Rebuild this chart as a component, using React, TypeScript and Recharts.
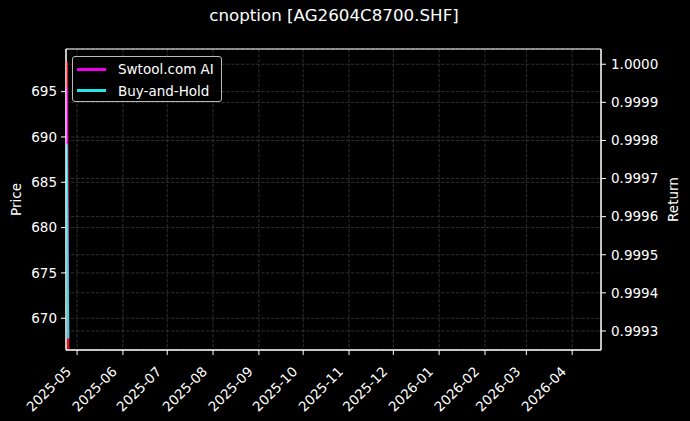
import React from 'react';
import {
  ComposedChart, Line, XAxis, YAxis, CartesianGrid, ReferenceArea,
} from 'recharts';

// trading days actually present in the backtest
const dates = ['2025-04-24', '2025-04-25'];
const price = [698.3, 666.6];
const aiReturn = [0.99994, 0.99928];
const holdReturn = [0.99979, 0.99928];

const monthTicks = [
  '2025-05', '2025-06', '2025-07', '2025-08', '2025-09', '2025-10',
  '2025-11', '2025-12', '2026-01', '2026-02', '2026-03', '2026-04',
];
const priceTicks = [670, 675, 680, 685, 690, 695];
const returnTicks = [0.9993, 0.9994, 0.9995, 0.9996, 0.9997, 0.9998, 0.9999, 1.0];

const xRange = ['2025-04-23T12:00:00Z', '2026-04-20T12:00:00Z'];
const priceRange = [666.5, 699.7];
const returnRange = [0.99925, 1.00004];

const FONT = '"DejaVu Sans", sans-serif';
const MAGENTA = '#ee00ee';
const CYAN = '#22e6e6';
const RED = '#dd1122';
const GRID = '#3a3a3a';

const toTime = (s: string) => Date.parse(s.length === 7 ? `${s}-01T00:00:00Z` : s.length === 10 ? `${s}T00:00:00Z` : s);

const data = dates.map((d, i) => ({
  t: toTime(d),
  price: price[i],
  ai: aiReturn[i],
  hold: holdReturn[i],
}));

const xDomain = xRange.map(toTime);
const xTicks = monthTicks.map(toTime);

const fmtMonth = (t: number) => {
  const d = new Date(t);
  return `${d.getUTCFullYear()}-${String(d.getUTCMonth() + 1).padStart(2, '0')}`;
};

const DateTick = ({ x, y, payload }: any) => (
  <g transform={`translate(${x - 5},${y + 15.5})`}>
    <text textAnchor="end" transform="rotate(-45)" fill="#fff" fontSize={13.5} fontFamily={FONT}>
      {fmtMonth(payload.value)}
    </text>
  </g>
);

const AxisTitle = ({ cx, cy, text }: any) => (
  <text
    x={cx}
    y={cy}
    transform={`rotate(-90 ${cx} ${cy})`}
    textAnchor="middle"
    dominantBaseline="central"
    fill="#fff"
    fontSize={13.5}
    fontFamily={FONT}
  >
    {text}
  </text>
);

const legendItems = [
  { name: 'Swtool.com AI', color: MAGENTA },
  { name: 'Buy-and-Hold', color: CYAN },
];

export default function App() {
  const tickStyle = { fill: '#fff', fontSize: 13.5, fontFamily: FONT };
  return (
    <div style={{ position: 'absolute', left: 0, top: 0, width: 690, height: 421, background: '#000', fontFamily: FONT }}>
      <div
        style={{
          position: 'absolute', left: 0, width: 668, top: 5, textAlign: 'center',
          color: '#fff', fontSize: 16.7, lineHeight: '20px',
        }}
      >
        cnoption [AG2604C8700.SHF]
      </div>

      <ComposedChart width={690} height={421} data={data} margin={{ top: 49, right: 0, bottom: 0, left: 0 }}>
        <CartesianGrid yAxisId="price" stroke={GRID} strokeDasharray="3.5 1.5" strokeWidth={0.8} />
        <CartesianGrid yAxisId="ret" vertical={false} stroke={GRID} strokeDasharray="3.5 1.5" strokeWidth={0.8} />
        <XAxis
          dataKey="t"
          type="number"
          domain={xDomain}
          ticks={xTicks}
          allowDataOverflow
          height={71}
          tick={<DateTick />}
          tickSize={5}
          tickMargin={2}
          interval={0}
          axisLine={{ stroke: '#fff' }}
          tickLine={{ stroke: '#fff' }}
        />
        <YAxis
          yAxisId="price"
          orientation="left"
          width={66}
          domain={priceRange}
          ticks={priceTicks}
          allowDataOverflow
          tick={tickStyle}
          tickSize={5}
          tickMargin={4}
          axisLine={{ stroke: '#fff' }}
          tickLine={{ stroke: '#fff' }}
          label={<AxisTitle cx={16} cy={199.5} text="Price" />}
        />
        <YAxis
          yAxisId="ret"
          orientation="right"
          width={89}
          domain={returnRange}
          ticks={returnTicks}
          allowDataOverflow
          tickFormatter={(v: number) => v.toFixed(4)}
          tick={tickStyle}
          tickSize={5}
          tickMargin={5}
          axisLine={{ stroke: '#fff' }}
          tickLine={{ stroke: '#fff' }}
          label={<AxisTitle cx={673} cy={199.5} text="Return" />}
        />
        <Line yAxisId="price" dataKey="price" stroke={RED} strokeWidth={2.5} dot={false} isAnimationActive={false} />
        <Line yAxisId="ret" dataKey="ai" stroke={MAGENTA} strokeWidth={2} dot={false} isAnimationActive={false} />
        <Line yAxisId="ret" dataKey="hold" stroke={CYAN} strokeWidth={2} dot={false} isAnimationActive={false} />
        <ReferenceArea
          yAxisId="price"
          x1={xDomain[0]}
          x2={xDomain[1]}
          y1={priceRange[0]}
          y2={priceRange[1]}
          fill="none"
          stroke="#fff"
          strokeWidth={1}
        />
      </ComposedChart>

      <div
        style={{
          position: 'absolute', left: 72, top: 56, width: 148, height: 44,
          border: '1px solid #bbb', borderRadius: 3, background: 'rgba(0,0,0,0.8)',
          color: '#fff', fontSize: 13.5, boxSizing: 'content-box',
        }}
      >
        {legendItems.map((it, i) => (
          <div key={it.name} style={{ position: 'absolute', left: 4, top: 3 + i * 21.5, height: 18, display: 'flex', alignItems: 'center' }}>
            <span style={{ display: 'inline-block', width: 29, height: 3, background: it.color, marginRight: 12 }} />
            <span>{it.name}</span>
          </div>
        ))}
      </div>
    </div>
  );
}
